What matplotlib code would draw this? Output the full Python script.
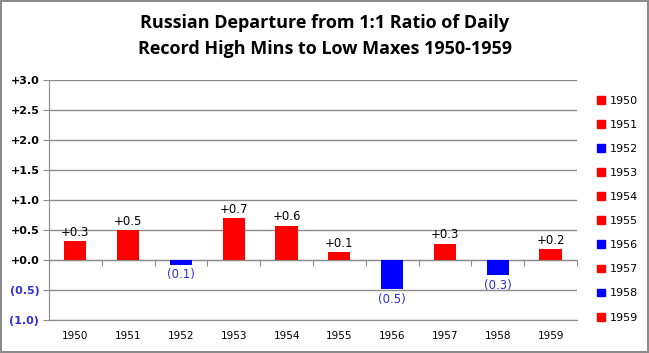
import numpy as np
import matplotlib
matplotlib.use('Agg')
import matplotlib.pyplot as plt
from matplotlib.patches import Patch

years = ['1950', '1951', '1952', '1953', '1954', '1955', '1956', '1957', '1958', '1959']
values = [0.31, 0.50, -0.08, 0.70, 0.57, 0.13, -0.49, 0.27, -0.25, 0.18]
labels = ['+0.3', '+0.5', '(0.1)', '+0.7', '+0.6', '+0.1', '(0.5)', '+0.3', '(0.3)', '+0.2']
yticks = [-1.0, -0.5, 0.0, 0.5, 1.0, 1.5, 2.0, 2.5, 3.0]
ytick_labels = ['(1.0)', '(0.5)', '+0.0', '+0.5', '+1.0', '+1.5', '+2.0', '+2.5', '+3.0']

red = '#FF0000'
blue = '#0000FF'
neg_txt = '#3030D8'
colors = [red if v >= 0 else blue for v in values]

fig = plt.figure(figsize=(6.49, 3.53), dpi=100)
fig.patch.set_edgecolor('#8C8C8C')
fig.patch.set_linewidth(1.5)
ax = fig.add_axes([0.0755, 0.0935, 0.8135, 0.68])

x = np.arange(len(years))
ax.bar(x, values, width=0.42, color=colors, zorder=3)
for xi, v, t in zip(x, values, labels):
    if v >= 0:
        ax.text(xi, v + 0.04, t, ha='center', va='bottom', fontsize=8.5, color='black')
    else:
        ax.text(xi, v - 0.06, t, ha='center', va='top', fontsize=8.5, color=neg_txt)

ax.set_xlim(-0.5, len(years) - 0.5)
ax.set_ylim(-1.0, 3.0)
ax.set_yticks(yticks)
ax.set_yticklabels(ytick_labels, fontsize=8, fontweight='bold')
for lbl, v in zip(ax.get_yticklabels(), yticks):
    lbl.set_color(neg_txt if v < 0 else 'black')
ax.set_xticks(x)
ax.set_xticklabels(years, fontsize=7.5)
ax.tick_params(axis='x', length=0, pad=8)
ax.tick_params(axis='y', length=4, color='#8C8C8C', pad=3)
ax.grid(axis='y', color='#8C8C8C', linewidth=1, zorder=0)
for s in ['top', 'right']:
    ax.spines[s].set_visible(False)
ax.spines['left'].set_color('#8C8C8C')
ax.spines['bottom'].set_color('#8C8C8C')

# zero line with category separators
sec = ax.secondary_xaxis(0, transform=ax.transData)
sec.set_xticks(np.arange(-0.5, len(years), 1.0))
sec.set_xticklabels([])
sec.tick_params(length=4, color='#8C8C8C', direction='out')
sec.spines['bottom'].set_color('#8C8C8C')

fig.text(0.5, 0.935, 'Russian Departure from 1:1 Ratio of Daily', ha='center', va='center',
         fontsize=13, fontweight='bold', family='Open Sans')
fig.text(0.5, 0.862, 'Record High Mins to Low Maxes 1950-1959', ha='center', va='center',
         fontsize=13, fontweight='bold', family='Open Sans')

handles = [Patch(color=c, label=y) for c, y in zip(colors, years)]
fig.legend(handles=handles, loc='upper left', bbox_to_anchor=(0.912, 0.745),
           frameon=False, fontsize=8, handlelength=0.7, handleheight=0.7,
           handletextpad=0.4, labelspacing=1.27, borderpad=0)

fig.savefig('out.png', dpi=100)
